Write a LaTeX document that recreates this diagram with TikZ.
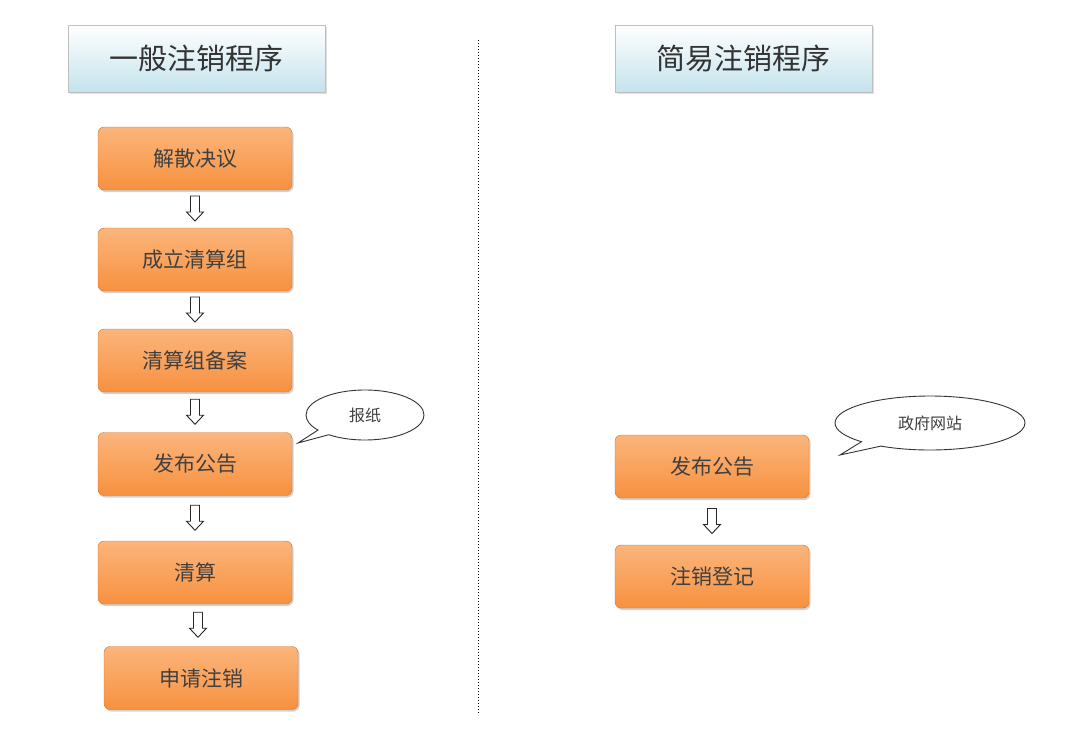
\documentclass[tikz,border=0pt]{standalone}
\usepackage{fontspec}
\setmainfont{Noto Sans CJK SC}
\usetikzlibrary{shapes.callouts,calc,shadows}
\definecolor{ob}{HTML}{D9732C}
\definecolor{ot}{HTML}{FBB57C}
\definecolor{om}{HTML}{F7913F}
\definecolor{tb}{HTML}{C4E3EC}
\tikzset{
 x=1pt,y=-1pt,
 stepbox/.style={draw=ob, rounded corners=6pt, top color=ot, bottom color=om, minimum width=194pt, minimum height=63pt, font=\fontsize{21}{24}\selectfont, text=black!75, drop shadow={shadow xshift=1.5pt,shadow yshift=-2pt,opacity=0.35}},
 titlebox/.style={draw=gray!50, top color=white, bottom color=tb, minimum width=257pt, minimum height=67pt, font=\fontsize{29}{32}\selectfont, text=black!80, drop shadow={shadow xshift=1.5pt,shadow yshift=-2pt,opacity=0.25}},
 darr/.style={draw=black!85, fill=white, line width=0.9pt, line join=miter},
 bubble/.style={ellipse callout, draw=black!80, fill=white, font=\fontsize{16}{18}\selectfont, text=black!75, line width=0.9pt}
}
\begin{document}
\begin{tikzpicture}
\useasboundingbox (0,0) rectangle (1080,729);
\fill[white] (0,0) rectangle (1080,729);
\node[titlebox] (t1) at (196.5,58.5) {一般注销程序};
\node[titlebox] (t2) at (743.5,58.5) {简易注销程序};
\coordinate (d1) at (478,40); \coordinate (d2) at (478,715);
\draw[dotted, line width=1pt] (d1) -- (d2);
\node[stepbox] (a1) at (195,158.5) {解散决议};
\node[stepbox] (a2) at (195,259.5) {成立清算组};
\node[stepbox] (a3) at (195,360.5) {清算组备案};
\node[stepbox] (a4) at (195,464) {发布公告};
\node[stepbox] (a5) at (195,572.5) {清算};
\node[stepbox] (a6) at (201,678) {申请注销};
\node[stepbox] (b1) at (712,466.5) {发布公告};
\node[stepbox] (b2) at (712,576.5) {注销登记};
\foreach \u/\v/\n in {a1/a2/r1,a2/a3/r2,a3/a4/r3,a4/a5/r4,a5/a6/r5,b1/b2/r6}{
  \coordinate (\n) at ($(\u.south)!0.5!(\v.north)+(0,-1)$);
  \draw[darr] ($(\n)+(-4.5,-12)$) -- ($(\n)+(4.5,-12)$) -- ($(\n)+(4.5,4)$) -- ($(\n)+(8.5,4)$) -- ($(\n)+(0,13)$) -- ($(\n)+(-8.5,4)$) -- ($(\n)+(-4.5,4)$) -- cycle;
}
\node[bubble, minimum width=118pt, minimum height=50pt, callout absolute pointer={(298,443)}] (c1) at (365,415) {报纸};
\node[bubble, minimum width=190pt, minimum height=54pt, callout absolute pointer={(840,455)}] (c2) at (930,423) {政府网站};
\end{tikzpicture}
\end{document}
